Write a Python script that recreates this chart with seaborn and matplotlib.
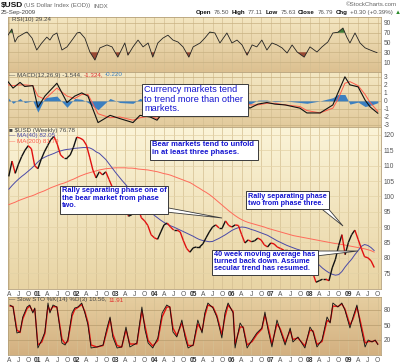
import numpy as np
import pandas as pd
import matplotlib
matplotlib.use("Agg")
import matplotlib.pyplot as plt
import seaborn as sns
from matplotlib.patches import Polygon, Rectangle
from matplotlib.colors import LinearSegmentedColormap

sns.set_theme(style="white")
plt.rcParams["font.family"] = ["Liberation Sans", "DejaVu Sans"]

# ---------------- data ----------------
months = pd.date_range("2000-04-01", "2009-09-01", freq="MS")
price = [106.5, 111.5, 107.5, 110.5, 113, 115, 116.5, 115.5, 110,
         109, 112, 114.5, 116.5, 118.5, 119.5, 117, 113.5, 112.5, 112.5, 113.5, 116,
         119.3, 119, 118.4, 116.7, 112.8, 108.6, 106, 108, 107, 108, 105.5, 103,
         101.5, 100.5, 100, 97.5, 93.5, 94, 95.5, 96, 93, 92, 90.5, 87.5,
         86.5, 86, 88.4, 90.7, 91.3, 90, 89, 89, 88.4, 85.5, 83, 81.8,
         83.2, 83.5, 83.5, 84.5, 86.5, 88.4, 90, 90.7, 89.7, 89.7, 92, 90.5,
         90, 90.7, 90.5, 87.5, 84.8, 85.8, 85.2, 85.5, 86.4, 85.8, 84.2, 83.5,
         84.8, 84.5, 83.5, 83, 82.5, 82.5, 81, 81.5, 79, 77.5, 76, 76.5,
         76, 75, 72, 72.5, 73, 73, 72.5, 76.7, 79.5, 84, 87.5, 81,
         85, 87.5, 89, 86, 83, 80.3, 80, 79, 76.8]
ma40 = [102.3, 103.5, 104.6, 105.6, 106.5, 107.3, 108.2, 109.1, 110.1,
        111.2, 112.1, 112.7, 113.2, 113.6, 114, 114.5, 114.8, 115.1, 115.3, 115.4, 115.6,
        115.7, 115.8, 115.9, 115.9, 115.8, 115.3, 114.5, 114, 113, 112, 110.6, 109.2,
        107.8, 106.5, 105.2, 104, 102.8, 101.5, 100.2, 99, 97.8, 96.7, 95.7, 94.7,
        93.8, 93, 92.2, 91.5, 90.9, 90.4, 90, 89.5, 89, 88.5, 88, 87.5,
        87, 86.4, 85.9, 85.6, 85.4, 85.2, 85.3, 85.8, 86.3, 86.9, 87.5, 88.2,
        88.9, 89.4, 89.8, 90, 89.9, 89.6, 89.2, 88.9, 88.5, 88.1, 87.7, 87.3,
        86.7, 86.1, 85.5, 85, 84.5, 84, 83.6, 83.2, 82.8, 82.5, 81.8, 81,
        80.1, 79.2, 78.3, 77.6, 76.6, 75.8, 75.1, 74.6, 74.3, 74.5, 75.5, 77,
        78.3, 79.5, 81, 82.3, 83.7, 84.3, 84, 83.3, 82.3]
ma200 = [97.3, 97.7, 98.1, 98.6, 99, 99.4, 99.8, 100.1, 100.5,
         101, 101.4, 101.8, 102.3, 102.8, 103.2, 103.6, 104, 104.3, 104.7, 105.2, 105.6,
         106.1, 106.6, 107, 107.4, 107.7, 108, 108.3, 108.6, 108.8, 109, 109.1, 109.2,
         109.3, 109.3, 109.3, 109.3, 109.2, 109.2, 109.1, 108.9, 108.8, 108.7, 108.6, 108.4,
         108.2, 108, 107.7, 107.4, 107.2, 106.9, 106.5, 106.1, 105.7, 105.3, 104.9, 104.5,
         103.9, 103.2, 102.6, 101.9, 101.3, 100.6, 99.8, 98.9, 98, 97.1, 96.2, 95.3,
         94.5, 93.7, 93, 92.4, 91.9, 91.5, 91.2, 90.9, 90.6, 90.3, 90, 89.6,
         89.3, 89, 88.7, 88.4, 88.1, 87.8, 87.5, 87.2, 87, 86.8, 86.6, 86.4,
         86.2, 86, 85.8, 85.6, 85.4, 85.2, 85, 84.8, 84.6, 84.5, 84.3, 84.1,
         83.9, 83.7, 83.5, 83.3, 83.1, 82.9, 82.6, 82.3, 81.8]

rsi_t = [2000.23, 2000.33, 2000.41, 2000.48, 2000.66, 2000.72, 2000.85, 2000.97, 2001.10, 2001.23,
         2001.31, 2001.39, 2001.49, 2001.62, 2001.75, 2001.88, 2002.01, 2002.08, 2002.21, 2002.34,
         2002.47, 2002.60, 2002.78, 2002.91, 2003.06, 2003.24, 2003.32, 2003.45, 2003.58, 2003.71,
         2003.84, 2003.96, 2004.09, 2004.22, 2004.35, 2004.48, 2004.61, 2004.74, 2004.89, 2005.00,
         2005.18, 2005.30, 2005.43, 2005.56, 2005.69, 2005.87, 2006.00, 2006.13, 2006.26, 2006.39,
         2006.52, 2006.64, 2006.77, 2006.90, 2007.03, 2007.16, 2007.29, 2007.42, 2007.55, 2007.68,
         2007.86, 2008.01, 2008.19, 2008.32, 2008.47, 2008.60, 2008.73, 2008.86, 2008.96, 2009.04,
         2009.17, 2009.30, 2009.43, 2009.56, 2009.69, 2009.74]
rsi_v = [65, 77.7, 51, 61, 69.5, 71.5, 59, 34.6, 49, 61, 55, 65, 69.5, 34.6, 41, 55, 69.5, 71, 59, 30.5,
         14, 39, 45, 41, 20, 49, 24, 41, 55, 41, 49, 20, 49, 59, 65, 55, 51, 41, 20, 41,
         49, 59, 71.5, 69.5, 49, 69.5, 49, 55, 45, 24, 45, 41, 55, 34.6, 49, 45, 39, 28.5, 45, 30.5,
         20, 41, 30.5, 41, 51, 69.5, 71, 79.7, 61, 49, 69.5, 49, 39, 34.6, 30.5, 29.24]

macd_t = [2000.23, 2000.36, 2000.54, 2000.66, 2000.87, 2001.00, 2001.18, 2001.49, 2001.75, 2001.95,
          2002.13, 2002.29, 2002.55, 2002.86, 2003.11, 2003.45, 2003.63, 2003.89, 2004.07, 2004.32,
          2004.53, 2004.79, 2005.00, 2005.30, 2005.56, 2005.90, 2006.21, 2006.46, 2006.67, 2006.90,
          2007.11, 2007.37, 2007.75, 2007.93, 2008.27, 2008.60, 2008.73, 2008.91, 2009.04, 2009.25,
          2009.43, 2009.56, 2009.76]
macd_v = [2.4, 1.6, 2.3, 1.8, 1.9, -0.8, 0.6, 2.2, -0.2, 0.6,
          1.0, 0.6, -2.7, -1.8, -2.2, -2.7, -1.8, -2.0, -2.4, -0.8,
          -0.5, -1.2, -1.8, -0.8, 0.2, 0.4, 0.2, -0.9, -0.4, -0.2,
          -0.4, -0.5, -0.9, -1.5, -1.5, -0.5, 1.0, 3.0, 2.0, 1.75,
          0.1, -0.75, -1.544]
signal_v = [2.0, 1.9, 2.0, 2.0, 1.9, 0.6, 0.2, 1.6, 0.6, 0.3,
            0.8, 0.8, -1.6, -2.1, -2.0, -2.4, -2.1, -1.9, -2.2, -1.4,
            -0.6, -0.9, -1.5, -1.2, -0.2, 0.3, 0.3, -0.5, -0.5, -0.3,
            -0.3, -0.5, -0.7, -1.2, -1.5, -0.9, 0.2, 2.2, 2.4, 1.9,
            0.8, -0.2, -1.324]

sto_t = [2000.28, 2000.36, 2000.46, 2000.54, 2000.61, 2000.72, 2000.79, 2000.87, 2000.92, 2001.00,
         2001.10, 2001.18, 2001.26, 2001.31, 2001.39, 2001.49, 2001.62, 2001.70, 2001.77, 2001.88,
         2001.95, 2002.03, 2002.13, 2002.21, 2002.29, 2002.37, 2002.52, 2002.68, 2002.78, 2002.86,
         2002.93, 2003.04, 2003.16, 2003.27, 2003.37, 2003.55, 2003.68, 2003.76, 2003.84, 2003.96,
         2004.09, 2004.20, 2004.32, 2004.40, 2004.48, 2004.58, 2004.71, 2004.79, 2004.87, 2005.00,
         2005.12, 2005.23, 2005.30, 2005.38, 2005.51, 2005.61, 2005.74, 2005.82, 2005.90, 2006.03,
         2006.08, 2006.21, 2006.29, 2006.39, 2006.52, 2006.64, 2006.77, 2006.85, 2006.93, 2007.03,
         2007.16, 2007.24, 2007.37, 2007.50, 2007.57, 2007.70, 2007.88, 2008.01, 2008.09, 2008.19,
         2008.32, 2008.45, 2008.53, 2008.60, 2008.73, 2008.83, 2008.91, 2009.04, 2009.12, 2009.22,
         2009.30, 2009.43, 2009.51, 2009.61, 2009.69, 2009.76]
sto_k = [90, 86, 34, 36, 66, 86, 90, 74, 84, 4, 20, 36, 94, 74, 90, 86, 14, 10, 20, 74,
         84, 86, 94, 74, 50, 4, 6, 10, 44, 66, 26, 4, 6, 46, 6, 14, 86, 40, 14, 4,
         24, 74, 90, 86, 36, 26, 60, 26, 4, 10, 60, 34, 74, 94, 84, 66, 24, 74, 94, 74,
         4, 54, 44, 4, 20, 34, 44, 76, 40, 6, 60, 40, 10, 44, 16, 26, 4, 46, 36, 6,
         20, 66, 54, 94, 86, 94, 80, 44, 66, 90, 54, 6, 20, 16, 20, 10.56]
sto_d = [88, 87, 40, 35, 62, 83, 88, 77, 82, 10, 16, 33, 88, 78, 87, 86, 22, 13, 17, 68,
         81, 85, 91, 77, 55, 10, 6, 9, 38, 62, 32, 9, 6, 40, 12, 12, 78, 48, 19, 8,
         19, 66, 86, 86, 44, 29, 54, 32, 9, 9, 52, 38, 68, 90, 86, 69, 31, 66, 90, 77,
         12, 46, 46, 10, 17, 31, 42, 70, 46, 12, 52, 43, 15, 39, 21, 24, 8, 40, 38, 11,
         17, 59, 56, 88, 87, 92, 82, 50, 62, 86, 60, 14, 17, 17, 19, 11.91]

# ---------------- layout ----------------
W, H = 400, 363
fig = plt.figure(figsize=(4.0, 3.63), dpi=100)
fig.patch.set_facecolor("#ffffff")
renderer = fig.canvas.get_renderer()


def fx(px):
    return px / W


def fy(py):
    return 1 - py / H


def make_ax(top, bottom):
    return fig.add_axes([fx(8), fy(bottom), fx(381) - fx(8), (bottom - top) / H])


XMIN, XMAX = 2000.23, 2009.84
ax_rsi = make_ax(17, 72)
ax_macd = make_ax(72, 127)
ax_px = make_ax(127, 289)
ax_sto = make_ax(297, 355)

t_month = (months.year + (months.month - 1) / 12.0).values.astype(float)


def gradient(ax, c_top, c_bot, ylim):
    cmap = LinearSegmentedColormap.from_list("g", [c_bot, c_top])
    grad = np.linspace(0, 1, 256).reshape(-1, 1)
    ax.imshow(grad, extent=[XMIN, XMAX, ylim[0], ylim[1]], origin="lower",
              aspect="auto", cmap=cmap, zorder=0)
    ax.set_xlim(XMIN, XMAX)
    ax.set_ylim(*ylim)


quarters = np.arange(2000.25, 2009.76, 0.25)
qlabels = []
for q in quarters:
    m = int(round((q % 1) * 12)) + 1
    qlabels.append({4: "A", 7: "J", 10: "O"}.get(m, "%02d" % (int(round(q)) % 100)))


def style(ax, yticks, hgrid_color="#c8b182"):
    ax.yaxis.tick_right()
    ax.set_yticks(yticks)
    ax.set_yticklabels([str(v) for v in yticks])
    ax.tick_params(axis="y", length=0, labelsize=4.8, colors="#555555", pad=2)
    ax.set_xticks(quarters)
    ax.tick_params(axis="x", length=0, labelsize=4.8, colors="#555555", pad=1.2)
    ax.set_xticklabels([])
    for q in quarters:
        ax.axvline(q, color="#d4bf92", lw=0.5, zorder=1)
    for v in yticks:
        ax.axhline(v, color=hgrid_color, lw=0.5, zorder=1)
    for s in ax.spines.values():
        s.set_color("#b5a079")
        s.set_linewidth(0.6)


# ---- RSI ----
gradient(ax_rsi, "#f4e7c2", "#dcc090", (-10.5, 102.3))
style(ax_rsi, [10, 30, 50, 70, 90])
rt = np.array(rsi_t)
rv = np.array(rsi_v)
ax_rsi.fill_between(rt, 70, rv, where=rv > 70, interpolate=True, color="#3f7a35", zorder=2, lw=0)
ax_rsi.fill_between(rt, 30, rv, where=rv < 30, interpolate=True, color="#9a4a35", zorder=2, lw=0)
sns.lineplot(x=rt, y=rv, ax=ax_rsi, color="#222222", lw=0.6, zorder=3)
ax_rsi.set_xlabel(""); ax_rsi.set_ylabel("")

# ---- MACD ----
gradient(ax_macd, "#f4e8c4", "#e2ca9c", (-3.25, 3.6))
style(ax_macd, [-3, -2, -1, 0, 1, 2, 3])
mt = np.array(macd_t)
hist = np.array(macd_v) - np.array(signal_v)
ax_macd.fill_between(mt, 0, hist, color="#3b7fc0", lw=0, zorder=2)
sns.lineplot(x=mt, y=signal_v, ax=ax_macd, color="#ff5a4a", lw=0.7, zorder=3)
sns.lineplot(x=mt, y=macd_v, ax=ax_macd, color="#111111", lw=0.8, zorder=4)
ax_macd.set_xlabel(""); ax_macd.set_ylabel("")

# ---- Price ----
gradient(ax_px, "#fbf4d8", "#e8d4a4", (69.8, 122.6))
style(ax_px, [75, 80, 85, 90, 95, 100, 105, 110, 115, 120], hgrid_color="#e3d2a6")
sns.lineplot(x=t_month, y=ma200, ax=ax_px, color="#ff6a5a", lw=0.7, zorder=3)
sns.lineplot(x=t_month, y=ma40, ax=ax_px, color="#4a4aa8", lw=0.7, zorder=3)
for i in range(1, len(price)):
    c = "#e01010" if price[i] < price[i - 1] else "#111111"
    ax_px.plot(t_month[i - 1:i + 1], price[i - 1:i + 1], color=c, lw=1.0, zorder=4,
               solid_capstyle="butt")
ax_px.set_xlabel(""); ax_px.set_ylabel("")
ax_px.set_xticklabels(qlabels)

# ---- STO ----
gradient(ax_sto, "#e6cea0", "#d3b080", (-10, 106))
style(ax_sto, [20, 50, 80], hgrid_color="#b89c6e")
sns.lineplot(x=sto_t, y=sto_d, ax=ax_sto, color="#e81010", lw=1.0, zorder=3)
sns.lineplot(x=sto_t, y=sto_k, ax=ax_sto, color="#111111", lw=0.6, zorder=4)
ax_sto.set_xlabel(""); ax_sto.set_ylabel("")
ax_sto.set_xticklabels(qlabels)

for ax in (ax_px, ax_sto):
    for lab in ax.get_xticklabels():
        if lab.get_text().isdigit():
            lab.set_fontweight("bold")
            lab.set_color("#333333")


# ---------------- header & legends ----------------
def seq(x_px, y_px, parts, size, gap=1.5):
    x = x_px
    for txt, color, weight in parts:
        t = fig.text(fx(x), fy(y_px), txt, fontsize=size, color=color, fontweight=weight,
                     va="center", ha="left")
        bb = t.get_window_extent(renderer=renderer)
        x = bb.x1 + gap
    return x


seq(1, 6, [("$USD", "#111111", "bold")], 6.0)
seq(24, 6, [("(US Dollar Index (EOD))", "#666666", "normal"), ("INDX", "#666666", "normal")], 4.4, gap=3)
seq(1, 12.5, [("25-Sep-2009", "#444444", "normal")], 4.4)
fig.text(fx(397), fy(5), "\u00a9StockCharts.com", fontsize=4.4, va="center", ha="right", color="#666")
seq(196, 12.5, [("Open", "#111111", "bold"), ("76.50", "#555555", "normal"),
                ("High", "#111111", "bold"), ("77.11", "#555555", "normal"),
                ("Low", "#111111", "bold"), ("75.63", "#555555", "normal"),
                ("Close", "#111111", "bold"), ("76.79", "#555555", "normal"),
                ("Chg", "#111111", "bold"), ("+0.30 (+0.39%)", "#555555", "normal"),
                ("\u25b2", "#2a8a2a", "normal")], 4.4, gap=2.5)

seq(12, 19.5, [("RSI(10) 29.24", "#444444", "normal")], 4.5)
seq(9, 75, [("\u2014 MACD(12,26,9) -1.544,", "#444444", "normal"), ("-1.324,", "#e03030", "normal"),
            ("-0.220", "#3a7fc0", "normal")], 4.5)
seq(9, 130, [("\u25a0 $USD (Weekly) 76.78", "#444444", "normal")], 4.5)
seq(9, 135.5, [("\u2014 MA(40) 82.05", "#4a4aa8", "normal")], 4.5)
seq(9, 141, [("\u2014 MA(200) 81.79", "#ff5a4a", "normal")], 4.5)
seq(9, 300, [("\u2014 Slow STO %K(14) %D(3) 10.56,", "#444444", "normal"), ("11.91", "#e03030", "normal")], 4.5)

# ---------------- annotation boxes ----------------
BLUE = "#1414d0"


def box(x0, y0, x1, y1, lines, size, bold, pad_top):
    r = Rectangle((fx(x0), fy(y1)), fx(x1) - fx(x0), (y1 - y0) / H, transform=fig.transFigure,
                  facecolor="white", edgecolor="#3a3a3a", lw=0.7, zorder=20)
    fig.add_artist(r)
    fig.text(fx(x0 + 2), fy(y0 + pad_top), lines, fontsize=size, color=BLUE, va="top",
             ha="left", fontweight="bold" if bold else "normal", linespacing=1.05, zorder=21)


def wedge(pts):
    p = Polygon([(fx(a), fy(b)) for a, b in pts], closed=True, transform=fig.transFigure,
                facecolor="white", edgecolor="#3a3a3a", lw=0.6, zorder=19)
    fig.add_artist(p)


box(142, 84, 248, 116, "Currency markets tend\nto trend more than other\nmarkets.", 6.6, False, 1.5)
box(150, 140, 258, 160, "Bear markets tend to unfold\nin at least three phases.", 5.5, True, 1.5)
wedge([(158, 206), (166, 212), (222, 218)])
box(60, 186, 168, 214, "Rally separating phase one of\nthe bear market from phase\ntwo.", 5.3, True, 1.5)
wedge([(318, 206), (326, 206), (343, 226)])
box(246, 191, 329, 209, "Rally separating phase\ntwo from phase three.", 5.2, True, 1.5)
wedge([(316, 251), (316, 256), (358, 251)])
box(212, 250, 318, 275, "40 week moving average has\nturned back down. Assume\nsecular trend has resumed.", 5.3, True, 1.0)

fig.savefig("out.png", dpi=100, facecolor=fig.get_facecolor())
